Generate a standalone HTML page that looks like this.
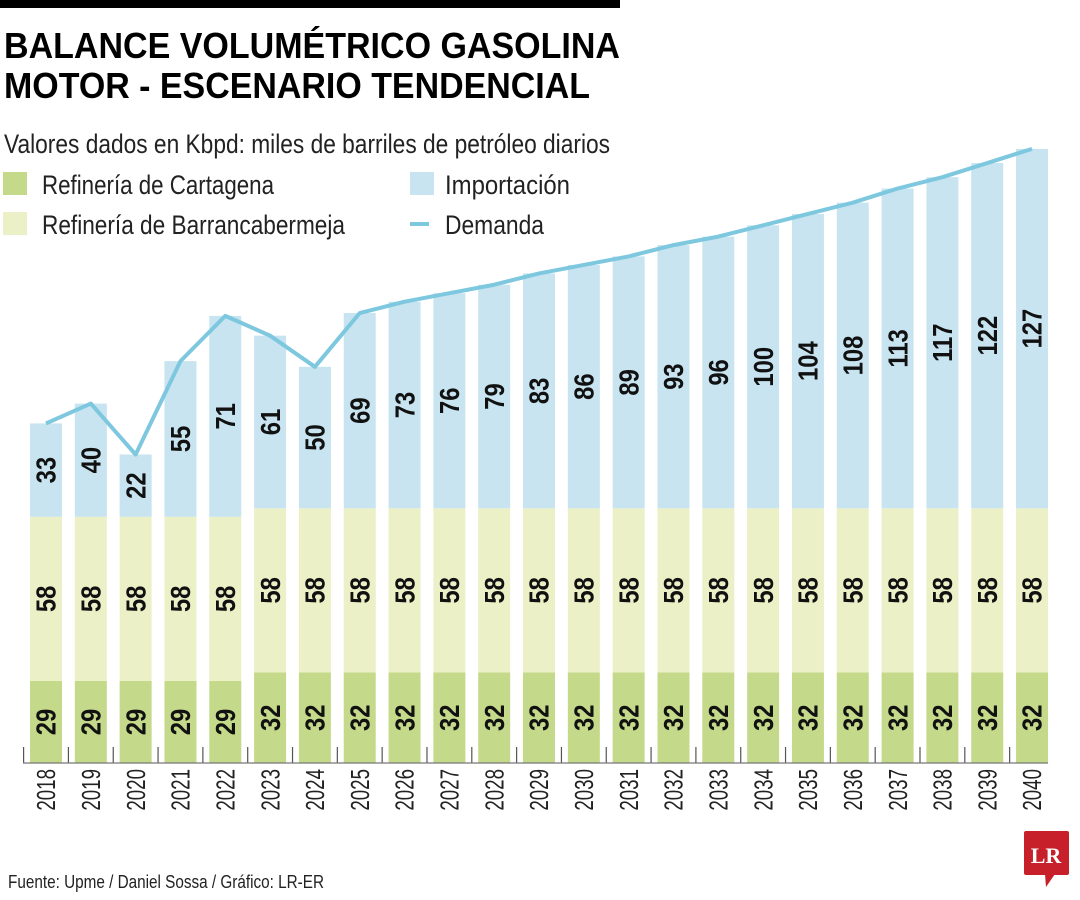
<!DOCTYPE html>
<html><head><meta charset="utf-8">
<style>
html,body{margin:0;padding:0;background:#fff;}
svg{display:block;font-family:"Liberation Sans",sans-serif;}
</style></head>
<body>
<svg id="chart" width="1080" height="900" viewBox="0 0 1080 900" xmlns="http://www.w3.org/2000/svg">
  <rect x="0" y="0" width="620" height="8" fill="#000"/>
  <text x="4" y="58" font-size="36" font-weight="bold" textLength="616" lengthAdjust="spacingAndGlyphs">BALANCE VOLUMÉTRICO GASOLINA</text>
  <text x="4" y="98" font-size="36" font-weight="bold" textLength="586" lengthAdjust="spacingAndGlyphs">MOTOR - ESCENARIO TENDENCIAL</text>
  <text x="4" y="153" font-size="27" fill="#222" textLength="606" lengthAdjust="spacingAndGlyphs">Valores dados en Kbpd: miles de barriles de petróleo diarios</text>
  <g>
    <rect x="3" y="172" width="24" height="23" fill="#c5d98a"/>
    <text x="42" y="194" font-size="27" fill="#222" textLength="232" lengthAdjust="spacingAndGlyphs">Refinería de Cartagena</text>
    <rect x="3" y="212" width="24" height="23" fill="#ecf0c6"/>
    <text x="42" y="234" font-size="27" fill="#222" textLength="303" lengthAdjust="spacingAndGlyphs">Refinería de Barrancabermeja</text>
    <rect x="410" y="172" width="24" height="23" fill="#c7e4f0"/>
    <text x="445" y="194" font-size="27" fill="#222" textLength="125" lengthAdjust="spacingAndGlyphs">Importación</text>
    <rect x="410" y="222" width="19" height="4" fill="#7ec8df"/>
    <text x="445" y="234" font-size="27" fill="#222" textLength="99" lengthAdjust="spacingAndGlyphs">Demanda</text>
  </g>
  <g id="plot"></g>
  <text x="8" y="888" font-size="18" fill="#222" textLength="316" lengthAdjust="spacingAndGlyphs">Fuente: Upme / Daniel Sossa / Gráfico: LR-ER</text>
  <g>
    <rect x="1024" y="831" width="45" height="44" rx="2" fill="#c8202a"/>
    <polygon points="1045,874 1055,874 1046,887" fill="#c8202a"/>
    <text x="1046" y="863" font-family="Liberation Serif,serif" font-weight="bold" font-size="22" fill="#fff" text-anchor="middle">LR</text>
  </g>
</svg>
<script>
const years = ["2018","2019","2020","2021","2022","2023","2024","2025","2026","2027","2028","2029","2030","2031","2032","2033","2034","2035","2036","2037","2038","2039","2040"];
const cartagena = [29,29,29,29,29,32,32,32,32,32,32,32,32,32,32,32,32,32,32,32,32,32,32];
const barranca = [58,58,58,58,58,58,58,58,58,58,58,58,58,58,58,58,58,58,58,58,58,58,58];
const importacion = [33,40,22,55,71,61,50,69,73,76,79,83,86,89,93,96,100,104,108,113,117,122,127];
const demanda = [120,127,109,142,158,151,140,159,163,166,169,173,176,179,183,186,190,194,198,203,207,212,217];

const NS = "http://www.w3.org/2000/svg";
const plot = document.getElementById('plot');
const baseY = 763, unit = 2.83, x0 = 30, pitch = 44.82, bw = 32;
function xPos(i){ return x0 + i*pitch; }
function yPos(v){ return baseY - v*unit; }
function mk(tag, attrs){ const e=document.createElementNS(NS,tag); for(const k in attrs) e.setAttribute(k,attrs[k]); plot.appendChild(e); return e; }
function label(cx, cy, txt){
  const t = mk('text',{x:0,y:0,'font-size':28,'font-weight':'bold','text-anchor':'middle','dominant-baseline':'central',fill:'#111',transform:`translate(${cx},${cy}) rotate(-90) scale(0.85,1)`});
  t.textContent = txt;
  
  
}
years.forEach((yr,i)=>{
  const x = xPos(i);
  const segs = [[cartagena[i],'#c5d98a','bar-cartagena'],[barranca[i],'#ecf0c6','bar-barrancabermeja'],[importacion[i],'#c7e4f0','bar-importacion']];
  let acc = 0;
  segs.forEach(s=>{
    const y1 = yPos(acc), y2 = yPos(acc+s[0]);
    const r = mk('rect',{x:x,y:y2,width:bw,height:y1-y2,fill:s[1]});
    
    
    label(x+bw/2, (y1+y2)/2, String(s[0]));
    acc += s[0];
  });
  const yl = mk('text',{x:0,y:0,'font-size':26,'text-anchor':'end','dominant-baseline':'central',fill:'#222',transform:`translate(${x+bw/2},${baseY+6}) rotate(-90) scale(0.72,1)`});
  yl.textContent = yr;
  
  
  const tk = mk('line',{x1:x-6.4,y1:baseY-16,x2:x-6.4,y2:baseY,stroke:'#555','stroke-width':1.2});
  
  
});
const ax = mk('line',{x1:23,y1:baseY,x2:xPos(years.length-1)+bw,y2:baseY,stroke:'#777','stroke-width':1.2});


const pts = demanda.map((v,i)=>`${xPos(i)+bw/2},${yPos(v)}`).join(' ');
const pl = mk('polyline',{points:pts,fill:'none',stroke:'#7ec8df','stroke-width':4,'stroke-linejoin':'round'});


</script>
</body></html>
